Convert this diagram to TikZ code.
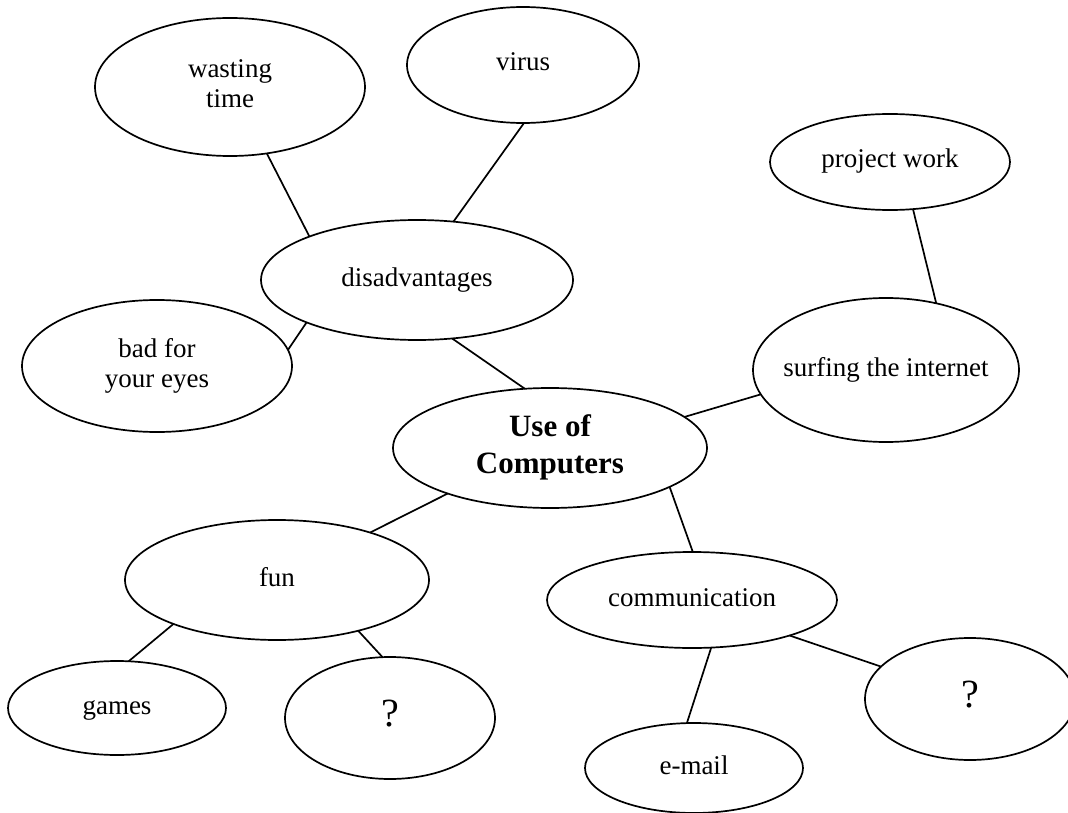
\documentclass[tikz,border=0pt]{standalone}
\usepackage{fontspec}
\setmainfont{Liberation Serif}
\usetikzlibrary{shapes.geometric}
\newcommand{\ovtext}[1]{\makebox[0pt]{\begin{tabular}{@{}c@{}}#1\end{tabular}}}
\tikzset{
  bubble/.style={ellipse, draw, line width=1.7pt, inner sep=0pt, outer sep=0pt,
    font=\fontsize{27}{30}\selectfont},
  hub/.style={bubble, font=\fontsize{31}{37}\selectfont\bfseries},
  link/.style={line width=1.7pt}
}
\begin{document}
\begin{tikzpicture}[x=1pt,y=-1pt]
\useasboundingbox (0,0) rectangle (1068,813);
\node[bubble, minimum width=270, minimum height=138] (waste) at (230,87) {\ovtext{wasting\\time}};
\node[bubble, minimum width=232, minimum height=116] (virus) at (523,65) {\ovtext{virus}};
\node[bubble, minimum width=240, minimum height=96] (proj) at (890,162) {\ovtext{project work}};
\node[bubble, minimum width=312, minimum height=120] (dis) at (417,280) {\ovtext{disadvantages}};
\node[bubble, minimum width=270, minimum height=132] (eyes) at (157,366) {\ovtext{bad for\\your eyes}};
\node[bubble, minimum width=266, minimum height=144] (surf) at (886,370) {\ovtext{surfing the internet}};
\node[hub, minimum width=314, minimum height=120] (use) at (550,448) {\ovtext{Use of\\Computers}};
\node[bubble, minimum width=304, minimum height=120] (fun) at (277,580) {\ovtext{fun}};
\node[bubble, minimum width=290, minimum height=96] (comm) at (692,600) {\ovtext{communication}};
\node[bubble, minimum width=218, minimum height=94] (games) at (117,708) {\ovtext{games}};
\node[bubble, minimum width=210, minimum height=122] (qa) at (390,718) {\ovtext{\fontsize{40}{44}\selectfont ?}};
\node[bubble, minimum width=210, minimum height=122] (qb) at (970,699) {\ovtext{\fontsize{40}{44}\selectfont ?}};
\node[bubble, minimum width=218, minimum height=90] (mail) at (694,768) {\ovtext{e-mail}};

\draw[link] (waste.-61) -- (dis.158);
\draw[link] (virus.-89) -- (dis.58);
\draw[link] (eyes.7.5) -- (dis.201);
\draw[link] (dis.-59) -- (use.113);
\draw[link] (proj.-64) -- (surf.53);
\draw[link] (surf.191) -- (use.13);
\draw[link] (use.204) -- (fun.27);
\draw[link] (use.-18) -- (comm.89);
\draw[link] (fun.203) -- (games.76);
\draw[link] (fun.-32) -- (qa.97);
\draw[link] (comm.-68) -- (mail.99);
\draw[link] (comm.-20) -- (qb.160);
\end{tikzpicture}
\end{document}
